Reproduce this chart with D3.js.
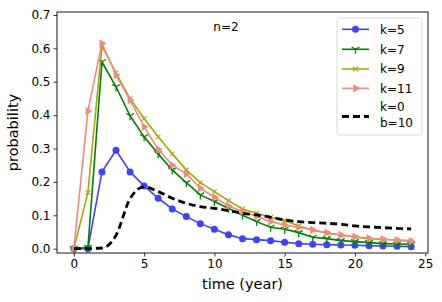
<!DOCTYPE html>
<html>
<head>
<meta charset="utf-8">
<script src="https://cdn.jsdelivr.net/npm/d3@7"></script>
<style>
  body { margin: 0; background: #fff; }
  svg { display: block; font-family: "DejaVu Sans", sans-serif; }
</style>
</head>
<body>
<svg id="chart" width="442" height="302"></svg>
<script>
// data
const years = d3.range(0, 25);
const k5 = [0, 0, 0.23, 0.295, 0.23, 0.188, 0.151, 0.119, 0.096, 0.075, 0.058, 0.042, 0.030, 0.027, 0.024, 0.019, 0.015, 0.013, 0.012, 0.011, 0.010, 0.009, 0.008, 0.007, 0.006];
const k7 = [0, 0.003, 0.56, 0.485, 0.398, 0.335, 0.284, 0.236, 0.198, 0.161, 0.141, 0.121, 0.100, 0.081, 0.064, 0.058, 0.048, 0.034, 0.030, 0.024, 0.021, 0.018, 0.015, 0.014, 0.013];
const k9 = [0, 0.168, 0.607, 0.527, 0.449, 0.39, 0.335, 0.284, 0.236, 0.198, 0.171, 0.144, 0.119, 0.106, 0.094, 0.084, 0.068, 0.056, 0.046, 0.040, 0.034, 0.030, 0.028, 0.026, 0.024];
const k11 = [0, 0.412, 0.615, 0.52, 0.445, 0.365, 0.298, 0.25, 0.224, 0.181, 0.154, 0.128, 0.111, 0.097, 0.081, 0.071, 0.064, 0.056, 0.048, 0.041, 0.036, 0.031, 0.028, 0.025, 0.022];
const k0b10 = [0, 0, 0.002, 0.04, 0.15, 0.185, 0.171, 0.151, 0.136, 0.126, 0.121, 0.114, 0.106, 0.101, 0.094, 0.086, 0.081, 0.078, 0.076, 0.073, 0.068, 0.065, 0.063, 0.061, 0.059];
const xTicks = [0, 5, 10, 15, 20, 25];
const yTicks = [0, 0.1, 0.2, 0.3, 0.4, 0.5, 0.6, 0.7];

const width = 442, height = 302;
const margin = { top: 12, right: 14, bottom: 49, left: 57 };

const svg = d3.select("#chart");

const x = d3.scaleLinear().domain([-1.2, 25.2]).range([margin.left, width - margin.right]);
const y = d3.scaleLinear().domain([-0.013, 0.709]).range([height - margin.bottom, margin.top]);

const series = [
  { label: ["k=5"], values: k5, color: "#4040ff", marker: "circle" },
  { label: ["k=7"], values: k7, color: "#008000", marker: "tri" },
  { label: ["k=9"], values: k9, color: "#a8a800", marker: "x" },
  { label: ["k=11"], values: k11, color: "#f08a80", marker: "tright" },
  { label: ["k=0", "b=10"], values: k0b10, color: "#000", marker: null, dash: true },
];

// axes
const gX = svg.append("g").attr("transform", "translate(0," + (height - margin.bottom) + ")");
gX.call(d3.axisBottom(x).tickValues(xTicks).tickSize(3.5).tickPadding(3).tickFormat(d3.format("d")));
const gY = svg.append("g").attr("transform", "translate(" + margin.left + ",0)");
gY.call(d3.axisLeft(y).tickValues(yTicks).tickSize(3.5).tickPadding(3).tickFormat(d3.format(".1f")));
svg.selectAll(".domain").remove();
svg.selectAll(".tick text").attr("font-size", 12).attr("fill", "#000").style("font-family", "DejaVu Sans");
svg.selectAll(".tick line").attr("stroke", "#000").attr("stroke-width", 0.8);

// frame
svg.append("rect")
  .attr("x", margin.left).attr("y", margin.top)
  .attr("width", width - margin.left - margin.right)
  .attr("height", height - margin.top - margin.bottom)
  .attr("fill", "none").attr("stroke", "#000").attr("stroke-width", 0.9);

// marker drawing
function drawMarker(g, type, color) {
  if (type === "circle") {
    g.append("circle").attr("r", 3.5).attr("fill", color);
  } else if (type === "tri") {
    g.append("path").attr("d", "M0,0V4.5M0,0L-3.9,-2.3M0,0L3.9,-2.3")
      .attr("stroke", color).attr("stroke-width", 1.3).attr("fill", "none");
  } else if (type === "x") {
    g.append("path").attr("d", "M-2.3,-2.3L2.3,2.3M-2.3,2.3L2.3,-2.3")
      .attr("stroke", color).attr("stroke-width", 1.1).attr("fill", "none");
  } else if (type === "tright") {
    g.append("path").attr("d", "M4.5,0L-2.3,-4.2L-2.3,4.2Z").attr("fill", color);
  }
}

const plot = svg.append("g");
series.forEach((s) => {
  const pts = years.map((t, i) => [t, s.values[i]]);
  const line = d3.line().x((d) => x(d[0])).y((d) => y(d[1]));
  if (s.dash) line.curve(d3.curveMonotoneX);
  plot.append("path")
    .datum(pts)
    .attr("d", line)
    .attr("fill", "none")
    .attr("stroke", s.color)
    .attr("stroke-width", s.dash ? 2.8 : 1.6)
    .attr("stroke-dasharray", s.dash ? "7,4" : null);
  if (s.marker) {
    pts.forEach((d) => {
      const g = plot.append("g").attr("transform", "translate(" + x(d[0]) + "," + y(d[1]) + ")");
      drawMarker(g, s.marker, s.color);
    });
  }
});

// annotation
svg.append("text").attr("x", 226).attr("y", 31).attr("text-anchor", "middle")
  .attr("font-size", 12).text("n=2");

// axis labels
svg.append("text").attr("x", (margin.left + width - margin.right) / 2).attr("y", 289)
  .attr("text-anchor", "middle").attr("font-size", 14.5).text("time (year)");
svg.append("text").attr("transform", "translate(18," + (margin.top + height - margin.bottom) / 2 + ") rotate(-90)")
  .attr("text-anchor", "middle").attr("font-size", 14.5).text("probability");

// legend
const legend = svg.append("g");
legend.append("rect").attr("x", 337).attr("y", 18).attr("width", 85).attr("height", 117)
  .attr("rx", 2.5).attr("fill", "#fff").attr("fill-opacity", 0.8)
  .attr("stroke", "#d6d6d6").attr("stroke-width", 0.9);
const rows = [29.3, 49.3, 69, 88.3, 116.5];
series.forEach((s, i) => {
  const ly = rows[i];
  legend.append("line").attr("x1", 342).attr("x2", 369).attr("y1", ly).attr("y2", ly)
    .attr("stroke", s.color).attr("stroke-width", s.dash ? 2.8 : 1.6)
    .attr("stroke-dasharray", s.dash ? "7,4" : null);
  if (s.marker) {
    const g = legend.append("g").attr("transform", "translate(355.5," + ly + ")");
    drawMarker(g, s.marker, s.color);
  }
  const txt = legend.append("text").attr("x", 380).attr("font-size", 12);
  if (s.label.length === 1) {
    txt.attr("y", ly + 4.3).text(s.label[0]);
  } else {
    s.label.forEach((l, j) => {
      txt.append("tspan").attr("x", 380).attr("y", ly - 5.3 + j * 15.6).text(l);
    });
  }
});
</script>
</body>
</html>
